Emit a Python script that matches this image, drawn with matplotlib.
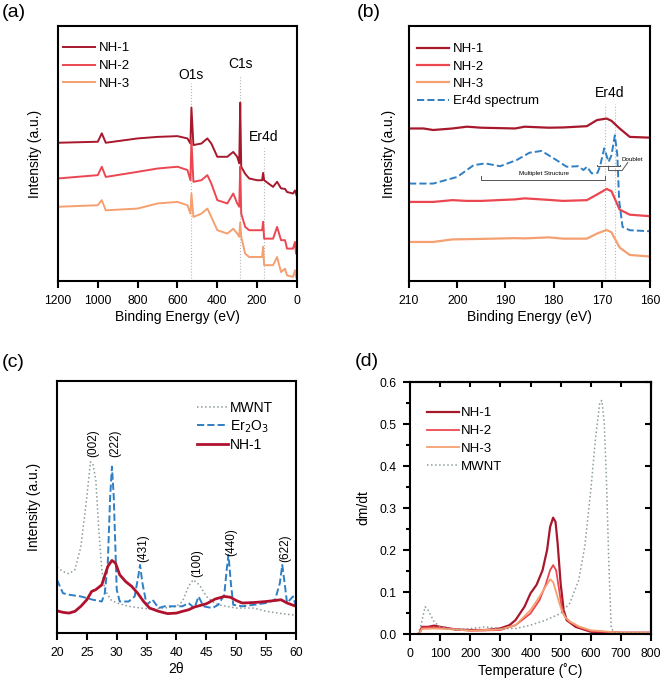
import numpy as np
import matplotlib
matplotlib.use('Agg')
import matplotlib.pyplot as plt

plt.rcParams['font.family'] = ['Liberation Sans', 'DejaVu Sans']
plt.rcParams['xtick.direction'] = 'out'
plt.rcParams['ytick.direction'] = 'out'

col_nh1 = '#a8182c'
col_nh2 = '#ec4650'
col_nh3 = '#f5a070'
col_blue = '#2f7fc4'
col_grey = '#8c9c9c'

# ---- (a) survey XPS
a_x = [1200, 1000, 980, 960, 800, 700, 600, 550, 535, 530, 520, 480, 450, 430, 400, 350, 320, 300,
       290, 285, 280, 260, 240, 200, 175, 170, 165, 120, 100, 80, 60, 50, 20, 10, 5, 0]
a_nh1 = [54.2, 54.6, 57.9, 54.2, 55.9, 56.5, 56.8, 55.9, 53.9, 68.0, 53.3, 53.9, 55.9, 53.9, 48.7, 48.7,
         50.6, 48.7, 46.1, 69.9, 44.8, 42.0, 40.2, 39.5, 39.5, 42.4, 39.5, 36.9, 38.9, 36.3, 36.1, 34.9,
         34.3, 35.5, 34.3, 33.0]
a_nh2 = [40.2, 41.5, 44.8, 40.8, 42.8, 44.1, 44.8, 43.5, 39.5, 55.2, 38.9, 39.5, 41.5, 38.2, 31.7, 30.4,
         34.3, 30.4, 29.1, 44.8, 26.4, 21.2, 19.9, 19.9, 19.9, 23.2, 16.6, 16.6, 21.2, 16.0, 16.0, 12.7,
         12.7, 15.3, 10.7, 12.7]
a_nh3 = [29.1, 29.7, 31.7, 27.7, 28.4, 30.4, 31.0, 29.7, 26.4, 34.3, 25.1, 26.4, 28.4, 25.1, 19.9, 18.6,
         20.5, 18.6, 17.3, 23.0, 17.3, 10.7, 9.4, 9.4, 9.4, 13.4, 6.2, 6.2, 9.4, 3.5, 4.8, 2.2, 1.6, 4.2,
         1.6, 0.9]
a_peaks = [530, 285, 168]
a_peak_names = ['O1s', 'C1s', 'Er4d']
a_peak_top = [77.5, 80.8, 52.3]
a_label_y = [78.0, 82.2, 53.8]

# ---- (b) Er4d region
b_x1 = [210, 207, 205, 201, 198, 195, 188, 186, 181, 178, 173.1, 171, 169, 168, 166.3, 164.2, 160]
b_nh1 = [59.8, 59.8, 59.2, 59.8, 60.5, 60.1, 59.8, 60.5, 60.1, 60.2, 60.7, 63.1, 63.7, 62.8, 59.8, 56.5, 56.2]
b_nh2 = [31.0, 31.0, 31.0, 31.7, 31.4, 31.4, 32.0, 32.4, 31.8, 31.4, 31.7, 33.9, 36.1, 35.2, 28.0, 26.0, 25.4]
b_nh3 = [15.3, 15.3, 15.3, 16.3, 16.4, 16.5, 16.8, 16.7, 17.1, 16.6, 16.6, 18.6, 20.0, 19.1, 13.1, 10.2, 9.6]
b_xs = [210, 205, 200, 196.6, 194.2, 191.1, 187.7, 185, 182.5, 179.4, 177.3, 174.9, 173.8, 173.1, 172.1,
        170.9, 170.4, 169.5, 168.6, 168, 167.3, 166.8, 166.4, 165.7, 164.2, 160]
b_er4d = [38.2, 38.2, 40.8, 45.4, 46.1, 45.0, 47.4, 50.3, 51.0, 47.4, 44.8, 45.0, 43.5, 44.8, 42.2,
          42.4, 44.8, 52.0, 46.7, 49.3, 57.1, 49.7, 31.4, 21.2, 19.9, 19.5]
b_lines = [169.3, 167.3]

# ---- (c) XRD
c_x_mwnt = [20, 21, 22, 23, 24, 25, 25.6, 26, 26.5, 27, 27.5, 28, 29, 30, 32, 34, 36, 38, 40, 41, 42,
            42.8, 43.5, 44, 45, 46, 47, 50, 53, 55, 57, 60]
c_mwnt = [26.1, 24.4, 23.5, 25.1, 34.3, 54.1, 67.9, 67.3, 60.7, 40.9, 25.1, 17.2, 13.2, 11.9, 10.6, 9.9,
          9.5, 9.9, 10.6, 12.5, 18.5, 21.1, 19.8, 18.5, 14.5, 12.5, 11.2, 9.9, 9.9, 8.6, 7.9, 7.0]
c_x_er = [20, 21, 22, 24, 26, 27.5, 28, 28.5, 28.9, 29.2, 29.5, 30, 30.5, 32, 33, 33.6, 33.9, 34.3, 35,
          36, 37, 38, 40, 41, 42, 43, 43.7, 44.5, 46, 47, 48, 48.4, 48.7, 49.1, 49.5, 51, 53, 55, 56.5,
          57.3, 57.7, 58.1, 58.5, 59.5, 60]
c_er = [21.1, 15.8, 15.2, 14.5, 13.2, 12.5, 15.8, 27.7, 54.1, 66.0, 54.1, 17.2, 12.5, 12.5, 14.5, 22.4,
        27.0, 19.8, 11.2, 13.2, 9.9, 10.6, 10.6, 10.6, 11.9, 9.9, 14.5, 10.6, 9.9, 11.2, 15.2, 25.1,
        31.0, 19.8, 11.2, 10.6, 11.2, 11.9, 13.2, 19.8, 27.0, 19.8, 11.9, 14.5, 10.6]
c_x_nh = [20, 21, 22, 23, 24, 25, 25.8, 26.5, 27.5, 28.5, 29.2, 29.8, 30.5, 31.5, 32.5, 33.5, 34.5, 35.5,
          37, 38.5, 40, 41, 42, 43, 45, 46.5, 48, 49, 50, 51, 53, 55, 56.5, 57.5, 58.5, 60]
c_nh1 = [8.8, 8.2, 7.9, 8.6, 10.6, 13.2, 16.5, 17.2, 19.1, 26.4, 28.8, 27.7, 23.1, 20.4, 18.5, 15.8,
         12.5, 9.9, 8.6, 7.7, 7.9, 8.6, 9.2, 10.3, 11.6, 13.5, 14.5, 14.2, 12.9, 11.9, 12.1, 12.5, 12.9,
         13.2, 11.9, 10.6]
c_hkl = ['(002)', '(222)', '(431)', '(100)', '(440)', '(622)']
c_hkl_x = [26.1, 29.8, 34.4, 43.4, 49.1, 58.2]
c_hkl_y = [75.2, 75.2, 33.6, 27.7, 36.0, 33.6]

# ---- (d) DTG
d_x = [30, 40, 60, 80, 100, 150, 200, 250, 300, 330, 350, 380, 400, 420, 440, 455, 465, 475, 483, 490,
       500, 510, 520, 550, 600, 700, 800]
d_nh1 = [0.0, 0.017, 0.017, 0.020, 0.017, 0.011, 0.0095, 0.0095, 0.0135, 0.021, 0.033, 0.065, 0.097,
         0.117, 0.152, 0.200, 0.255, 0.277, 0.267, 0.216, 0.120, 0.057, 0.033, 0.017, 0.0055, 0.003, 0.003]
d_x2 = [30, 40, 80, 150, 200, 300, 350, 400, 430, 450, 465, 475, 485, 495, 505, 515, 530, 560, 600, 700, 800]
d_nh2 = [0.0, 0.015, 0.016, 0.011, 0.008, 0.0095, 0.021, 0.049, 0.081, 0.117, 0.152, 0.164, 0.152,
         0.105, 0.057, 0.041, 0.029, 0.017, 0.007, 0.003, 0.003]
d_nh3 = [0.0, 0.012, 0.013, 0.011, 0.008, 0.011, 0.021, 0.057, 0.089, 0.113, 0.130, 0.124, 0.100,
         0.075, 0.053, 0.040, 0.030, 0.018, 0.009, 0.003, 0.003]
d_x_mwnt = [25, 35, 50, 60, 80, 100, 150, 200, 250, 300, 350, 400, 450, 500, 530, 560, 580, 600, 615,
            630, 637, 645, 652, 660, 668, 680, 800]
d_mwnt = [0.0, 0.017, 0.065, 0.057, 0.029, 0.017, 0.0095, 0.013, 0.017, 0.013, 0.013, 0.021, 0.033,
          0.049, 0.073, 0.128, 0.208, 0.342, 0.461, 0.552, 0.556, 0.500, 0.366, 0.168, 0.013, 0.003, 0.002]

fig = plt.figure(figsize=(6.61, 6.83), dpi=100)
ax_a = fig.add_axes([0.0877, 0.5886, 0.3616, 0.3734])
ax_b = fig.add_axes([0.6188, 0.5886, 0.3646, 0.3734])
ax_c = fig.add_axes([0.0862, 0.0732, 0.3616, 0.369])
ax_d = fig.add_axes([0.6203, 0.0717, 0.3646, 0.369])

for ax in [ax_a, ax_b, ax_c, ax_d]:
    for s in ax.spines.values():
        s.set_linewidth(1.5)
    ax.tick_params(labelsize=8.7, width=1.5, length=5, pad=5)

leg_kw = dict(frameon=False, handlelength=2.4, borderaxespad=0, handletextpad=0.3)

# (a)
for pk, top in zip(a_peaks, a_peak_top):
    ax_a.plot([pk, pk], [0, top], ':', color='#b8b8b8', lw=0.8)
ax_a.plot(a_x, a_nh1, color=col_nh1, lw=1.4, label='NH-1')
ax_a.plot(a_x, a_nh2, color=col_nh2, lw=1.4, label='NH-2')
ax_a.plot(a_x, a_nh3, color=col_nh3, lw=1.4, label='NH-3')
for pk, nm, ly in zip(a_peaks, a_peak_names, a_label_y):
    ax_a.text(pk, ly, nm, ha='center', va='bottom', fontsize=10)
ax_a.set_xlim(1200, 0)
ax_a.set_ylim(0, 100)
ax_a.set_xticks([1200, 1000, 800, 600, 400, 200, 0])
ax_a.set_yticks([])
ax_a.set_xlabel('Binding Energy (eV)', fontsize=10, labelpad=2)
ax_a.set_ylabel('Intensity (a.u.)', fontsize=10, labelpad=11.5)
ax_a.legend(loc='upper left', bbox_to_anchor=(0.0, 0.957), fontsize=9.5,
            labelspacing=0.42, **leg_kw)

# (b)
for xl in b_lines:
    ax_b.plot([xl, xl], [0, 69.5], ':', color='#b8b8b8', lw=0.8)
ax_b.plot(b_x1, b_nh1, color=col_nh1, lw=1.6, label='NH-1')
ax_b.plot(b_x1, b_nh2, color=col_nh2, lw=1.6, label='NH-2')
ax_b.plot(b_x1, b_nh3, color=col_nh3, lw=1.6, label='NH-3')
ax_b.plot(b_xs, b_er4d, '--', color=col_blue, lw=1.4, label='Er4d spectrum')
ax_b.text(168.3, 71, 'Er4d', ha='center', va='bottom', fontsize=10)
# multiplet bracket
ax_b.plot([195.1, 195.1, 169.3, 169.3], [41.0, 39.5, 39.5, 41.0], color='#555555', lw=0.7)
ax_b.text(182.1, 41.0, 'Multiplet Structure', ha='center', va='bottom', fontsize=4.5)
# doublet bracket
ax_b.plot([171.0, 171.0, 166.2, 166.2], [45.5, 45.0, 45.0, 45.5], color='#555555', lw=0.7)
ax_b.plot([168.6, 168.6, 165.8, 164.6], [45.0, 43.3, 43.3, 46.5], color='#555555', lw=0.7)
ax_b.text(165.9, 47.5, 'Doublet', ha='left', va='center', fontsize=4.5)
ax_b.set_xlim(210, 160)
ax_b.set_ylim(0, 100)
ax_b.set_xticks([210, 200, 190, 180, 170, 160])
ax_b.set_yticks([])
ax_b.set_xlabel('Binding Energy (eV)', fontsize=10, labelpad=2)
ax_b.set_ylabel('Intensity (a.u.)', fontsize=10, labelpad=9.5)
ax_b.legend(loc='upper left', bbox_to_anchor=(0.011, 0.953), fontsize=9.5,
            labelspacing=0.38, **leg_kw)

# (c)
ax_c.plot(c_x_mwnt, c_mwnt, ':', color=col_grey, lw=1.1, label='MWNT')
ax_c.plot(c_x_er, c_er, '--', color=col_blue, lw=1.4, label='Er$_2$O$_3$')
ax_c.plot(c_x_nh, c_nh1, color='#b0122e', lw=2.0, label='NH-1')
for t, xx, yy in zip(c_hkl, c_hkl_x, c_hkl_y):
    ax_c.text(xx, yy, t, rotation=90, ha='center', va='center', fontsize=8.5)
ax_c.set_xlim(20, 60)
ax_c.set_ylim(0, 100)
ax_c.set_xticks([20, 25, 30, 35, 40, 45, 50, 55, 60])
ax_c.set_yticks([])
ax_c.set_xlabel('2θ', fontsize=10, labelpad=2)
ax_c.set_ylabel('Intensity (a.u.)', fontsize=10, labelpad=11.5)
ax_c.legend(loc='upper right', bbox_to_anchor=(0.927, 0.942), fontsize=10,
            labelspacing=0.22, frameon=False, handlelength=2.2, borderaxespad=0,
            handletextpad=0.15)

# (d)
ax_d.plot(d_x, d_nh1, color=col_nh1, lw=1.6, label='NH-1')
ax_d.plot(d_x2, d_nh2, color=col_nh2, lw=1.3, label='NH-2')
ax_d.plot(d_x2, d_nh3, color=col_nh3, lw=1.3, label='NH-3')
ax_d.plot(d_x_mwnt, d_mwnt, ':', color=col_grey, lw=1.1, label='MWNT')
ax_d.set_xlim(0, 800)
ax_d.set_ylim(0, 0.6)
d_xt = np.arange(0, 801, 100)
d_yt = np.arange(0, 0.61, 0.1)
ax_d.set_xticks(d_xt)
ax_d.set_yticks(d_yt)
ax_d.set_yticks(np.arange(0.05, 0.6, 0.1), minor=True)
ax_d.yaxis.set_major_formatter(matplotlib.ticker.FormatStrFormatter('%.1f'))
ax_d.tick_params(axis='y', which='minor', length=3, width=1.5)
top_ax = ax_d.secondary_xaxis('top')
top_ax.set_xticks(d_xt)
top_ax.tick_params(direction='in', length=3.5, width=1.5, labeltop=False)
top_ax.spines['top'].set_linewidth(1.5)
right_ax = ax_d.secondary_yaxis('right')
right_ax.set_yticks(d_yt)
right_ax.tick_params(direction='in', length=4, width=1.5, labelright=False)
right_ax.spines['right'].set_linewidth(1.5)
ax_d.set_xlabel('Temperature (˚C)', fontsize=9.8, labelpad=2)
ax_d.set_ylabel('dm/dt', fontsize=10, labelpad=6)
ax_d.legend(loc='upper left', bbox_to_anchor=(0.049, 0.921), fontsize=9.5,
            labelspacing=0.42, frameon=False, handlelength=2.4, borderaxespad=0,
            handletextpad=0.15)

fig.text(0.003, 0.981, '(a)', fontsize=14, va='center')
fig.text(0.540, 0.981, '(b)', fontsize=14, va='center')
fig.text(0.003, 0.469, '(c)', fontsize=14, va='center')
fig.text(0.537, 0.470, '(d)', fontsize=14, va='center')

fig.savefig('out.png', dpi=100)
